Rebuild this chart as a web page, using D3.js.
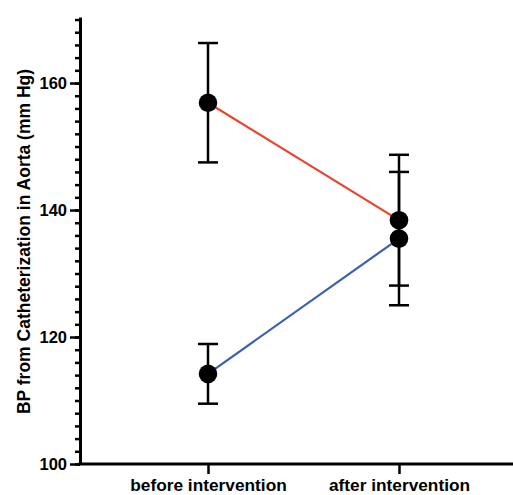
<!DOCTYPE html>
<html>
<head>
<meta charset="utf-8">
<script src="https://cdn.jsdelivr.net/npm/d3@7"></script>
<style>
  body { margin: 0; background: #fff; }
  text { font-family: "Liberation Sans", Arial, sans-serif; font-weight: bold; fill: #000; }
</style>
</head>
<body>
<svg id="chart"></svg>
<script>
const categories = ["before intervention", "after intervention"];
const redMean = [156.9, 138.4];
const redErr = [9.4, 10.3];
const blueMean = [114.2, 135.5];
const blueErr = [4.7, 10.5];
const yMajorTicks = [100, 120, 140, 160];
const yMinorTicks = d3.range(100, 171, 2);

function main() {
    const width = 513;
    const height = 495;
    const left = 80, top = 17, bottom = 464;

    const svg = d3.select("#chart").attr("width", width).attr("height", height);

    const y = d3.scaleLinear().domain([100, 170.4]).range([bottom, top]);
    const x = d3.scalePoint().domain(categories).range([208, 399]);

    // minor ticks
    svg.append("g")
        .attr("transform", "translate(" + left + ",0)")
        .call(d3.axisLeft(y).tickValues(yMinorTicks).tickSize(5).tickFormat(""))
        .call(g => g.select(".domain").remove())
        .call(g => g.selectAll(".tick line").attr("stroke", "#000").attr("stroke-width", 2.5));

    // major ticks + labels
    svg.append("g")
        .attr("transform", "translate(" + left + ",0)")
        .call(d3.axisLeft(y).tickValues(yMajorTicks).tickSize(10).tickPadding(3).tickSizeOuter(0))
        .call(g => g.select(".domain").attr("stroke", "#000").attr("stroke-width", 3))
        .call(g => g.selectAll(".tick line").attr("stroke", "#000").attr("stroke-width", 2.5))
        .call(g => g.selectAll(".tick text").style("font-size", "16.5px"));

    // x axis
    svg.append("line")
        .attr("x1", left - 1.5).attr("x2", width)
        .attr("y1", bottom).attr("y2", bottom)
        .attr("stroke", "#000").attr("stroke-width", 3);

    svg.append("g")
        .attr("transform", "translate(0," + bottom + ")")
        .call(d3.axisBottom(x).tickSize(10).tickPadding(5))
        .call(g => g.select(".domain").remove())
        .call(g => g.selectAll(".tick line").attr("stroke", "#000").attr("stroke-width", 2.5))
        .call(g => g.selectAll(".tick text").style("font-size", "17.3px"));

    // y title
    svg.append("text")
        .attr("transform", "translate(30," + ((top + bottom) / 2 + 1) + ") rotate(-90)")
        .attr("text-anchor", "middle")
        .style("font-size", "17.5px")
        .text("BP from Catheterization in Aorta (mm Hg)");

    const series = [
        { mean: redMean, err: redErr, color: "#e8432d" },
        { mean: blueMean, err: blueErr, color: "#3c5fb2" }
    ];

    const line = d3.line().x((d, i) => x(categories[i])).y(d => y(d));

    series.forEach(s => {
        svg.append("path")
            .attr("d", line(s.mean))
            .attr("fill", "none")
            .attr("stroke", s.color)
            .attr("stroke-width", 2.2);
    });

    series.forEach(s => {
        const g = svg.append("g");
        s.mean.forEach((m, i) => {
            const cx = x(categories[i]);
            const hi = y(m + s.err[i]), lo = y(m - s.err[i]);
            g.append("line").attr("x1", cx).attr("x2", cx).attr("y1", hi).attr("y2", lo)
                .attr("stroke", "#000").attr("stroke-width", 2.5);
            [hi, lo].forEach(yy => {
                g.append("line").attr("x1", cx - 10).attr("x2", cx + 10).attr("y1", yy).attr("y2", yy)
                    .attr("stroke", "#000").attr("stroke-width", 2.5);
            });
        });
    });

    series.forEach(s => {
        svg.append("g").selectAll("circle")
            .data(s.mean)
            .join("circle")
            .attr("cx", (d, i) => x(categories[i]))
            .attr("cy", d => y(d))
            .attr("r", 9.3)
            .attr("fill", "#000");
    });
}

main();
</script>
</body>
</html>
